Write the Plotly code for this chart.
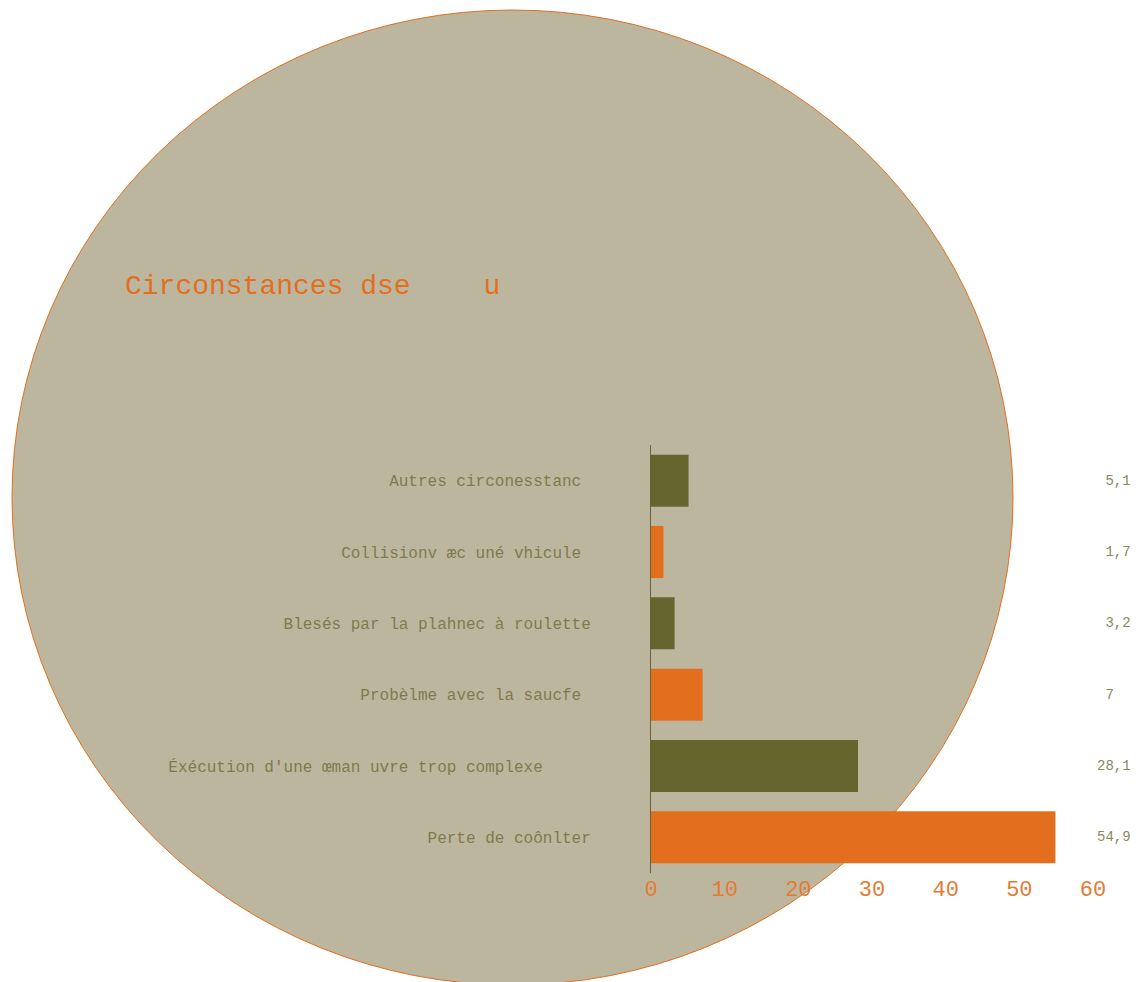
import plotly.graph_objects as go

categories = [
    "Autres circonesstanc",
    "Collisionv æc uné vhicule",
    "Blesés par la plahnec à roulette",
    "Probèlme avec la saucfe",
    "Éxécution d'une œman uvre trop complexe",
    "Perte de coônlter",
]
values = [5.1, 1.7, 3.2, 7, 28.1, 54.9]
bar_colors = ["#66652e", "#e36f1e", "#66652e", "#e36f1e", "#66652e", "#e36f1e"]
label_pad = [1, 1, 0, 1, 5, 0]
x_ticks = [0, 10, 20, 30, 40, 50, 60]
title_text = "Circonstances dse\u00a0\u00a0\u00a0\u00a0\u2009u"

FONT = "Courier New, Liberation Mono, monospace"
NB = "\u00a0"
tick_text = [c + NB * p + "\u200b" for c, p in zip(categories, label_pad)]

def fmt(v):
    s = ("%g" % v).replace(".", ",")
    ip = s.split(",")[0]
    return NB * (2 - len(ip)) + s + "\u200b"

W, H = 1141, 982
L, R, T, B = 651, 48, 445, 109
pw, ph = W - L - R, H - T - B

def px2x(px):
    return (px - L) / pw

def py2y(py):
    return (H - B - py) / ph

fig = go.Figure()
fig.add_trace(go.Bar(
    x=values, y=categories, orientation="h",
    marker=dict(color=bar_colors, line=dict(width=0)),
    hoverinfo="x+y",
))

for c, v in zip(categories, values):
    fig.add_annotation(x=px2x(1095), y=c, xref="paper", yref="y", text=fmt(v),
                       showarrow=False, xanchor="left", yanchor="middle",
                       font=dict(family=FONT, size=14, color="#8b8760"))

fig.add_shape(type="circle", xref="paper", yref="paper",
              x0=px2x(12), x1=px2x(1013), y0=py2y(985), y1=py2y(10),
              fillcolor="#bdb69f", line=dict(color="#e36f1e", width=1),
              layer="below")

fig.update_layout(
    width=W, height=H,
    margin=dict(l=L, r=R, t=T, b=B),
    paper_bgcolor="white",
    plot_bgcolor="rgba(0,0,0,0)",
    showlegend=False,
    bargap=0.27,
    title=dict(text=title_text, x=125 / W, xanchor="left", xref="container",
               y=1 - 284 / H, yanchor="middle", yref="container",
               font=dict(family=FONT, size=28, color="#e36f1e")),
    xaxis=dict(range=[0, 60], tickvals=x_ticks, showgrid=False, zeroline=False,
               showline=False, ticks="",
               tickfont=dict(family=FONT, size=22, color="#e47a33")),
    yaxis=dict(autorange="reversed", showgrid=False, zeroline=False,
               showline=True, linecolor="#66652e", linewidth=1, ticks="",
               tickmode="array", tickvals=categories, ticktext=tick_text,
               ticklabelstandoff=56,
               tickfont=dict(family=FONT, size=16, color="#7d7a4f")),
)

fig.write_html("out.html", config={"displayModeBar": False},
               post_script="document.body.style.margin='0';document.body.style.overflow='hidden';")
